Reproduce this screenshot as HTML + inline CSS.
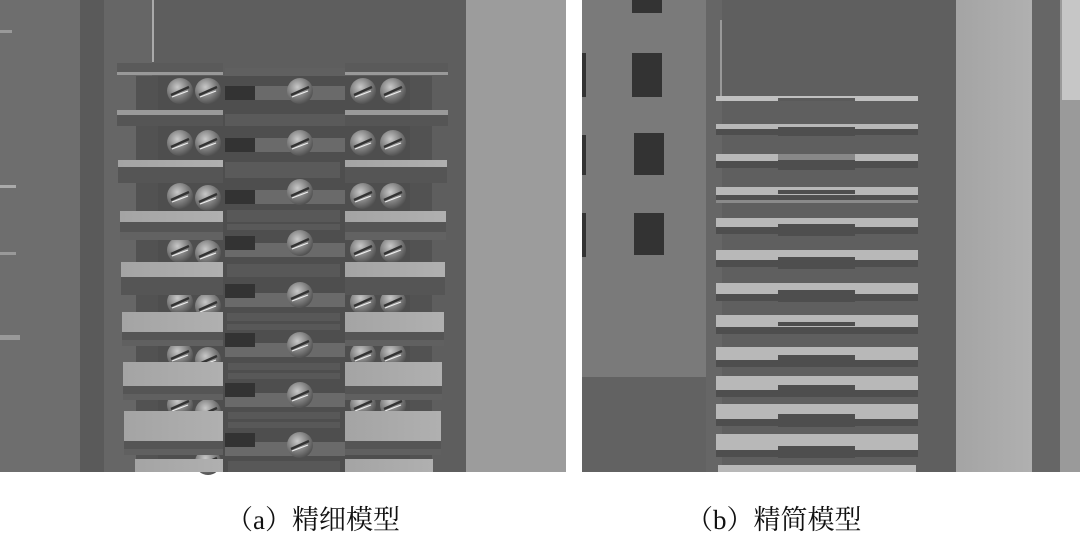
<!DOCTYPE html>
<html><head><meta charset="utf-8"><style>
html,body{margin:0;padding:0;background:#fff;width:1080px;height:537px;overflow:hidden}
.cap{position:absolute;top:498px;font-family:"Liberation Serif","Noto Serif CJK SC",serif;font-size:27px;color:#111;white-space:nowrap}
</style></head><body>
<svg width="1080" height="537" style="position:absolute;left:0;top:0">
<defs>
<radialGradient id="sg" cx="0.4" cy="0.35" r="0.7"><stop offset="0" stop-color="#c8c8c8"/><stop offset="0.6" stop-color="#7a7a7a"/><stop offset="1" stop-color="#4a4a4a"/></radialGradient>
<g id="scr"><circle r="13" fill="url(#sg)"/><line x1="-9" y1="4" x2="9" y2="-4" stroke="#333" stroke-width="2.5"/><line x1="-8" y1="6" x2="8" y2="0" stroke="#eee" stroke-width="1.2"/></g>
<linearGradient id="lt" x1="0" x2="1"><stop offset="0" stop-color="#a4a4a4"/><stop offset="1" stop-color="#b0b0b0"/></linearGradient>
</defs>
<!-- LEFT PANEL -->
<rect x="0" y="0" width="566" height="472" fill="#6e6e6e"/>
<rect x="80" y="0" width="24" height="472" fill="#5a5a5a"/>
<rect x="104" y="0" width="48" height="472" fill="#666"/>
<rect x="152" y="0" width="314" height="472" fill="#5e5e5e"/>
<rect x="466" y="0" width="100" height="472" fill="#9c9c9c"/>
<rect x="152" y="0" width="2" height="62" fill="#aaa"/>
<rect x="0" y="30" width="12" height="3" fill="#999"/>
<rect x="0" y="185" width="16" height="3" fill="#aaa"/>
<rect x="0" y="252" width="16" height="3" fill="#999"/>
<rect x="0" y="335" width="20" height="5" fill="#999"/>
<rect x="136" y="76" width="22" height="396" fill="#525252"/>
<rect x="410" y="76" width="22" height="396" fill="#525252"/>
<rect x="158" y="76" width="252" height="396" fill="#4e4e4e"/>
<g fill="#6a6a6a">
<rect x="225" y="86" width="120" height="14"/><rect x="225" y="138" width="120" height="14"/><rect x="225" y="190" width="120" height="14"/>
<rect x="225" y="243" width="120" height="14"/><rect x="225" y="293" width="120" height="14"/><rect x="225" y="343" width="120" height="14"/>
<rect x="225" y="393" width="120" height="14"/><rect x="225" y="442" width="120" height="14"/>
</g>
<g fill="#333">
<rect x="225" y="86" width="30" height="14"/><rect x="225" y="138" width="30" height="14"/><rect x="225" y="190" width="30" height="14"/>
<rect x="225" y="236" width="30" height="14"/><rect x="225" y="284" width="30" height="14"/><rect x="225" y="333" width="30" height="14"/>
<rect x="225" y="383" width="30" height="14"/><rect x="225" y="433" width="30" height="14"/>
</g>
<g>
<use href="#scr" x="180" y="91"/><use href="#scr" x="208" y="91"/><use href="#scr" x="300" y="91"/><use href="#scr" x="363" y="91"/><use href="#scr" x="393" y="91"/>
<use href="#scr" x="180" y="143"/><use href="#scr" x="208" y="143"/><use href="#scr" x="300" y="143"/><use href="#scr" x="363" y="143"/><use href="#scr" x="393" y="143"/>
<use href="#scr" x="180" y="196"/><use href="#scr" x="208" y="198"/><use href="#scr" x="300" y="192"/><use href="#scr" x="363" y="196"/><use href="#scr" x="393" y="196"/>
<use href="#scr" x="180" y="250"/><use href="#scr" x="208" y="253"/><use href="#scr" x="300" y="243"/><use href="#scr" x="363" y="250"/><use href="#scr" x="393" y="250"/>
<use href="#scr" x="180" y="302"/><use href="#scr" x="208" y="306"/><use href="#scr" x="300" y="295"/><use href="#scr" x="363" y="302"/><use href="#scr" x="393" y="302"/>
<use href="#scr" x="180" y="355"/><use href="#scr" x="208" y="360"/><use href="#scr" x="300" y="345"/><use href="#scr" x="363" y="355"/><use href="#scr" x="393" y="355"/>
<use href="#scr" x="180" y="405"/><use href="#scr" x="208" y="412"/><use href="#scr" x="300" y="395"/><use href="#scr" x="363" y="405"/><use href="#scr" x="393" y="405"/>
<use href="#scr" x="300" y="445"/><use href="#scr" x="208" y="462"/>
</g>
<g>
<rect x="117" y="63" width="106" height="9" fill="#5a5a5a"/><rect x="117" y="72" width="106" height="3" fill="#999"/>
<rect x="345" y="63" width="103" height="9" fill="#5a5a5a"/><rect x="345" y="72" width="103" height="3" fill="#999"/>
<rect x="225" y="68" width="120" height="8" fill="#606060"/>

<rect x="117" y="110" width="106" height="5" fill="#9a9a9a"/><rect x="117" y="115" width="106" height="11" fill="#555"/>
<rect x="345" y="110" width="103" height="5" fill="#9a9a9a"/><rect x="345" y="115" width="103" height="11" fill="#555"/>
<rect x="225" y="114" width="120" height="12" fill="#5a5a5a"/>

<rect x="118" y="160" width="105" height="7" fill="url(#lt)"/><rect x="118" y="167" width="105" height="16" fill="#555"/>
<rect x="345" y="160" width="102" height="7" fill="url(#lt)"/><rect x="345" y="167" width="102" height="16" fill="#555"/>
<rect x="225" y="162" width="115" height="16" fill="#5a5a5a"/>

<rect x="120" y="211" width="103" height="11" fill="url(#lt)"/><rect x="120" y="222" width="103" height="10" fill="#555"/><rect x="120" y="232" width="103" height="8" fill="#626262"/>
<rect x="345" y="211" width="101" height="11" fill="url(#lt)"/><rect x="345" y="222" width="101" height="10" fill="#555"/><rect x="345" y="232" width="101" height="8" fill="#626262"/>
<rect x="227" y="210" width="113" height="12" fill="#585858"/><rect x="227" y="224" width="113" height="6" fill="#595959"/>

<rect x="121" y="262" width="102" height="15" fill="url(#lt)"/><rect x="121" y="277" width="102" height="18" fill="#555"/>
<rect x="345" y="262" width="100" height="15" fill="url(#lt)"/><rect x="345" y="277" width="100" height="18" fill="#555"/>
<rect x="227" y="264" width="113" height="13" fill="#585858"/>

<rect x="122" y="312" width="101" height="20" fill="url(#lt)"/><rect x="122" y="332" width="101" height="8" fill="#555"/><rect x="122" y="340" width="101" height="6" fill="#606060"/>
<rect x="345" y="312" width="99" height="20" fill="url(#lt)"/><rect x="345" y="332" width="99" height="8" fill="#555"/><rect x="345" y="340" width="99" height="6" fill="#606060"/>
<rect x="227" y="313" width="113" height="8" fill="#585858"/><rect x="227" y="324" width="113" height="6" fill="#585858"/>

<rect x="123" y="362" width="100" height="24" fill="url(#lt)"/><rect x="123" y="386" width="100" height="8" fill="#555"/><rect x="123" y="394" width="100" height="6" fill="#606060"/>
<rect x="345" y="362" width="97" height="24" fill="url(#lt)"/><rect x="345" y="386" width="97" height="8" fill="#555"/><rect x="345" y="394" width="97" height="6" fill="#606060"/>
<rect x="228" y="363" width="112" height="7" fill="#585858"/><rect x="228" y="373" width="112" height="6" fill="#585858"/>

<rect x="124" y="411" width="99" height="30" fill="url(#lt)"/><rect x="124" y="441" width="99" height="8" fill="#555"/><rect x="124" y="449" width="99" height="6" fill="#606060"/>
<rect x="345" y="411" width="96" height="30" fill="url(#lt)"/><rect x="345" y="441" width="96" height="8" fill="#555"/><rect x="345" y="449" width="96" height="6" fill="#606060"/>
<rect x="228" y="412" width="112" height="7" fill="#585858"/><rect x="228" y="422" width="112" height="6" fill="#585858"/>

<rect x="135" y="459" width="88" height="13" fill="url(#lt)"/><rect x="345" y="459" width="88" height="13" fill="url(#lt)"/>
<rect x="228" y="461" width="112" height="11" fill="#585858"/>
</g>

<!-- RIGHT PANEL -->
<rect x="582" y="0" width="498" height="472" fill="#7a7a7a"/>
<rect x="582" y="377" width="126" height="95" fill="#626262"/>
<rect x="706" y="0" width="16" height="472" fill="#666"/>
<rect x="722" y="0" width="234" height="472" fill="#5f5f5f"/>
<rect x="956" y="0" width="76" height="472" fill="url(#lt)"/>
<rect x="1032" y="0" width="28" height="472" fill="#666"/>
<rect x="1060" y="0" width="20" height="472" fill="#9a9a9a"/>
<rect x="1062" y="0" width="18" height="100" fill="#d8d8d8" opacity="0.7"/>
<g fill="#333">
<rect x="632" y="0" width="30" height="13"/><rect x="632" y="53" width="30" height="44"/><rect x="634" y="133" width="30" height="42"/><rect x="634" y="213" width="30" height="42"/>
<rect x="582" y="53" width="4" height="44"/><rect x="582" y="135" width="4" height="40"/><rect x="582" y="213" width="4" height="44"/>
</g>
<rect x="720" y="20" width="2" height="80" fill="#999"/>
<g>
<rect x="716" y="96" width="202" height="5" fill="#c0c0c0"/><rect x="778" y="98" width="77" height="3" fill="#5a5a5a"/>
<rect x="716" y="124" width="202" height="5" fill="#b8b8b8"/><rect x="716" y="129" width="202" height="6" fill="#4e4e4e"/><rect x="778" y="127" width="77" height="9" fill="#4e4e4e"/>
<rect x="716" y="154" width="202" height="7" fill="#b8b8b8"/><rect x="716" y="161" width="202" height="7" fill="#4e4e4e"/><rect x="778" y="154" width="77" height="6" fill="#888"/><rect x="778" y="160" width="77" height="10" fill="#4e4e4e"/>
<rect x="716" y="187" width="202" height="8" fill="#b8b8b8"/><rect x="716" y="195" width="202" height="5" fill="#505050"/><rect x="716" y="200" width="202" height="3" fill="#8a8a8a"/><rect x="778" y="190" width="77" height="4" fill="#4e4e4e"/><rect x="778" y="196" width="77" height="4" fill="#4e4e4e"/>
<rect x="716" y="218" width="202" height="9" fill="#b8b8b8"/><rect x="716" y="227" width="202" height="7" fill="#4e4e4e"/><rect x="778" y="224" width="77" height="12" fill="#4e4e4e"/>
<rect x="716" y="250" width="202" height="10" fill="#b8b8b8"/><rect x="716" y="260" width="202" height="7" fill="#4e4e4e"/><rect x="778" y="257" width="77" height="12" fill="#4e4e4e"/>
<rect x="716" y="283" width="202" height="11" fill="#b8b8b8"/><rect x="716" y="294" width="202" height="7" fill="#4e4e4e"/><rect x="778" y="290" width="77" height="12" fill="#4e4e4e"/>
<rect x="716" y="315" width="202" height="12" fill="#b8b8b8"/><rect x="716" y="327" width="202" height="7" fill="#4e4e4e"/><rect x="778" y="322" width="77" height="4" fill="#4e4e4e"/><rect x="778" y="328" width="77" height="6" fill="#4e4e4e"/>
<rect x="716" y="347" width="202" height="13" fill="#b8b8b8"/><rect x="716" y="360" width="202" height="7" fill="#4e4e4e"/><rect x="778" y="355" width="77" height="12" fill="#4e4e4e"/>
<rect x="716" y="376" width="202" height="14" fill="#b8b8b8"/><rect x="716" y="390" width="202" height="7" fill="#4e4e4e"/><rect x="778" y="385" width="77" height="12" fill="#4e4e4e"/>
<rect x="716" y="404" width="202" height="15" fill="#b8b8b8"/><rect x="716" y="419" width="202" height="7" fill="#4e4e4e"/><rect x="778" y="414" width="77" height="13" fill="#4e4e4e"/>
<rect x="716" y="434" width="202" height="16" fill="#b8b8b8"/><rect x="716" y="450" width="202" height="7" fill="#4e4e4e"/><rect x="778" y="446" width="77" height="12" fill="#4e4e4e"/>
<rect x="718" y="465" width="198" height="7" fill="#b8b8b8"/>
</g>
</svg>
<div class="cap" style="left:226px">（a）精细模型</div>
<div class="cap" style="left:686px">（b）精简模型</div>
</body></html>
